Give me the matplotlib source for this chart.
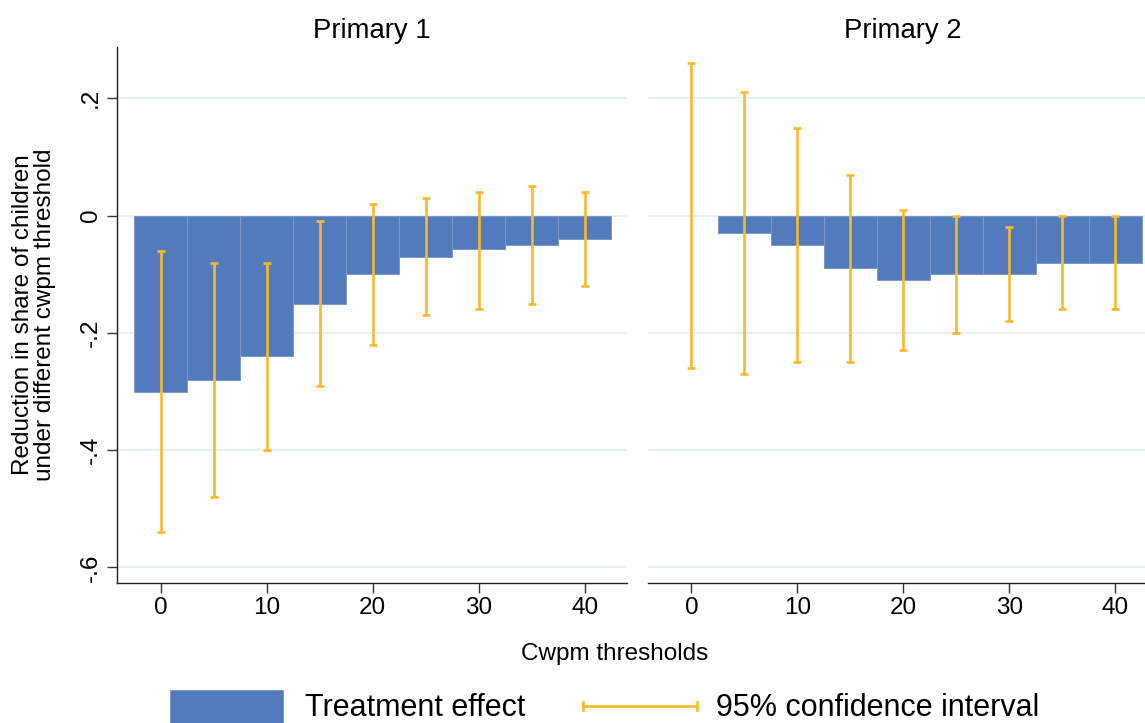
import matplotlib
matplotlib.use("Agg")
import matplotlib.pyplot as plt
from matplotlib.patches import Rectangle
from matplotlib.lines import Line2D

plt.rcParams['font.family'] = ['Liberation Sans', 'DejaVu Sans']

# Cwpm thresholds
thresholds = [0, 5, 10, 15, 20, 25, 30, 35, 40]

# Primary 1: treatment effect and 95% CI bounds
p1_effect = [-0.30, -0.28, -0.24, -0.15, -0.10, -0.07, -0.057, -0.05, -0.04]
p1_ci_low = [-0.54, -0.48, -0.40, -0.29, -0.22, -0.17, -0.16, -0.15, -0.12]
p1_ci_high = [-0.06, -0.08, -0.08, -0.01, 0.02, 0.03, 0.04, 0.05, 0.04]

# Primary 2: treatment effect and 95% CI bounds
p2_effect = [0.0, -0.03, -0.05, -0.09, -0.11, -0.10, -0.10, -0.08, -0.08]
p2_ci_low = [-0.26, -0.27, -0.25, -0.25, -0.23, -0.20, -0.18, -0.16, -0.16]
p2_ci_high = [0.26, 0.21, 0.15, 0.07, 0.01, 0.0, -0.02, 0.0, 0.0]

panel_titles = ["Primary 1", "Primary 2"]
yticks = [0.2, 0.0, -0.2, -0.4, -0.6]
ytick_labels = [".2", "0", "-.2", "-.4", "-.6"]
xticks = [0, 10, 20, 30, 40]

BAR_COLOR = "#527BBD"
BAR_EDGE = "#7A98CC"
CI_COLOR = "#FBB829"
GRID_COLOR = "#EAF0F2"
AXIS_COLOR = "#222222"

W, H = 1145, 723
fig = plt.figure(figsize=(W / 100, H / 100), dpi=100)

ax_bottom = 1 - 583.3 / H
ax_height = (583.3 - 46.7) / H
ax_width = 509.4 / W
ax1 = fig.add_axes([117.3 / W, ax_bottom, ax_width, ax_height])
ax2 = fig.add_axes([648.0 / W, ax_bottom, ax_width, ax_height])

panels = [
    (ax1, p1_effect, p1_ci_low, p1_ci_high),
    (ax2, p2_effect, p2_ci_low, p2_ci_high),
]

for i, (ax, eff, lo, hi) in enumerate(panels):
    for yv in yticks:
        ax.axhline(yv, color=GRID_COLOR, lw=1.6, zorder=0)
    edge_widths = [0.0 if v == 0 else 0.7 for v in eff]
    ax.bar(thresholds, eff, width=5, color=BAR_COLOR, edgecolor=BAR_EDGE,
           linewidth=edge_widths, zorder=2)
    mid = [(a + b) / 2 for a, b in zip(lo, hi)]
    half = [(b - a) / 2 for a, b in zip(lo, hi)]
    ax.errorbar(thresholds, mid, yerr=half, fmt='none', ecolor=CI_COLOR,
                elinewidth=1.9, capsize=3.0, capthick=1.9, zorder=3)

    ax.set_xlim(-4.1, 43.96)
    ax.set_ylim(-0.627, 0.288)
    ax.set_xticks(xticks)
    ax.set_xticklabels([str(t) for t in xticks])
    ax.set_yticks(yticks)
    ax.set_title(panel_titles[i], fontsize=19.8, pad=6)

    for side in ("top", "right"):
        ax.spines[side].set_visible(False)
    ax.spines["bottom"].set_color(AXIS_COLOR)
    ax.spines["bottom"].set_linewidth(1.0)
    ax.tick_params(axis='x', length=7.2, width=1.0, color="#333333",
                   labelsize=17.5, pad=3)

    if i == 0:
        ax.spines["left"].set_color(AXIS_COLOR)
        ax.spines["left"].set_linewidth(1.0)
        ax.set_yticklabels(ytick_labels, rotation=90, va='center')
        ax.tick_params(axis='y', length=7.2, width=1.0, color="#333333",
                       labelsize=17.5, pad=4)
    else:
        ax.spines["left"].set_visible(False)
        ax.tick_params(axis='y', left=False, labelleft=False)

fig.text(34 / W, 1 - 315 / H,
         "Reduction in share of children\nunder different cwpm threshold",
         rotation=90, ha='center', va='center', fontsize=17.5,
         linespacing=0.95)
fig.text(615 / W, 1 - 654 / H, "Cwpm thresholds", ha='center', va='center',
         fontsize=17.5)

# Legend drawn in figure pixel space
fig.add_artist(Rectangle((170 / W, 1 - 730 / H), 113 / W, 40 / H,
                         transform=fig.transFigure, facecolor=BAR_COLOR,
                         edgecolor=BAR_EDGE, linewidth=0.7))
fig.text(305 / W, 1 - 708 / H, "Treatment effect", ha='left', va='center',
         fontsize=22)
fig.add_artist(Line2D([583 / W, 697 / W], [1 - 706 / H, 1 - 706 / H],
                      transform=fig.transFigure, color=CI_COLOR, lw=1.9))
for xe in (583, 697):
    fig.add_artist(Line2D([xe / W, xe / W], [1 - 702 / H, 1 - 710 / H],
                          transform=fig.transFigure, color=CI_COLOR, lw=1.9))
fig.text(716 / W, 1 - 708 / H, "95% confidence interval", ha='left',
         va='center', fontsize=22)

fig.savefig("out.png", dpi=100, facecolor="white")
